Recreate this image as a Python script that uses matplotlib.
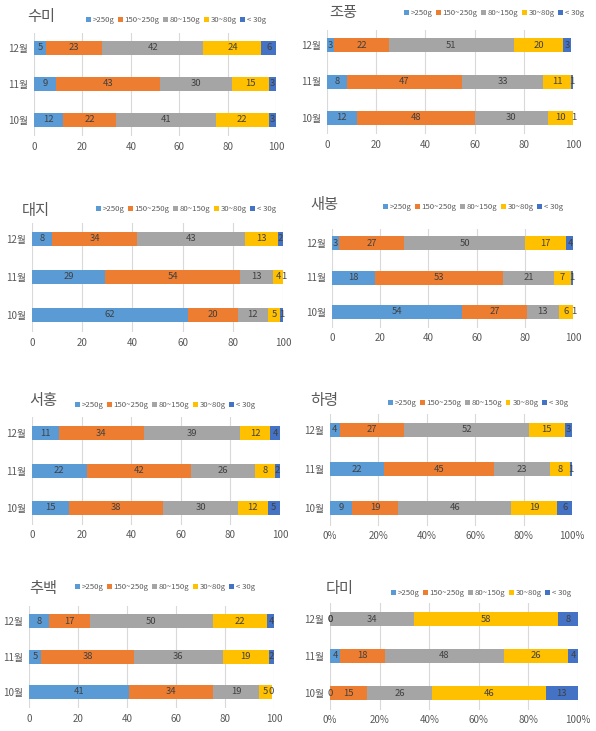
import numpy as np
import matplotlib.pyplot as plt
from matplotlib.patches import Patch

plt.rcParams['font.family'] = ['Noto Sans CJK KR', 'DejaVu Sans']

# size classes and months (bottom to top: 10월, 11월, 12월)
sizes = ['>250g', '150~250g', '80~150g', '30~80g', '< 30g']
months = ['10월', '11월', '12월']
colors = ['#5B9BD5', '#ED7D31', '#A5A5A5', '#FFC000', '#4472C4']

# rows: 10월, 11월, 12월 ; columns: size classes
sumi = [[12, 22, 41, 22, 3], [9, 43, 30, 15, 3], [5, 23, 42, 24, 6]]
jopung = [[12, 48, 30, 10, 1], [8, 47, 33, 11, 1], [3, 22, 51, 20, 3]]
daeji = [[62, 20, 12, 5, 1], [29, 54, 13, 4, 1], [8, 34, 43, 13, 2]]
saebong = [[54, 27, 13, 6, 1], [18, 53, 21, 7, 1], [3, 27, 50, 17, 4]]
seohong = [[15, 38, 30, 12, 5], [22, 42, 26, 8, 2], [11, 34, 39, 12, 4]]
haryeong = [[9, 19, 46, 19, 6], [22, 45, 23, 8, 1], [4, 27, 52, 15, 3]]
chubaek = [[41, 34, 19, 5, 0], [5, 38, 36, 19, 2], [8, 17, 50, 22, 4]]
dami = [[0, 15, 26, 46, 13], [4, 18, 48, 26, 4], [0, 0, 34, 58, 8]]

W, H = 596, 731
fig = plt.figure(figsize=(W / 100, H / 100), dpi=100)

# (name, data, x0, x100, bar centres 12/11/10, title xy, legend xy, percent axis)
panels = [
    ('수미', sumi, 34, 276, (48, 83, 120), (27, 17), (86, 20), False),
    ('조풍', jopung, 327, 573, (45, 82, 118), (329, 13), (404, 13), False),
    ('대지', daeji, 32, 283, (239, 277, 315), (22, 210), (96, 209), False),
    ('새봉', saebong, 332, 573, (243, 277, 312), (310, 205), (383, 207), False),
    ('서홍', seohong, 32, 280, (433, 470, 508), (29, 401), (75, 405), False),
    ('하령', haryeong, 330, 572, (430, 469, 508), (310, 401), (388, 403), True),
    ('추백', chubaek, 29, 274, (621, 657, 692), (29, 589), (75, 587), False),
    ('다미', dami, 330, 578, (619, 656, 693), (326, 588), (391, 593), True),
]

handles = [Patch(facecolor=c, edgecolor='none') for c in colors]

for name, data, x0, x1, bars, tpos, lpos, pct in panels:
    y12, y11, y10 = bars
    s = (y10 - y12) / 2
    ytop = y12 - 0.42 * s
    ybot = y10 + 0.45 * s
    ax = fig.add_axes([x0 / W, 1 - ybot / H, (x1 - x0) / W, (ybot - ytop) / H])
    vals = np.array(data, dtype=float)
    widths = vals / vals.sum(axis=1, keepdims=True) * 100 if pct else vals
    ypos = np.arange(len(months))
    left = np.zeros(len(months))
    for j in range(len(sizes)):
        ax.barh(ypos, widths[:, j], left=left, height=14 / s,
                color=colors[j], zorder=2)
        for i in range(len(months)):
            ax.text(left[i] + widths[i, j] / 2, ypos[i], str(int(vals[i, j])),
                    ha='center', va='center', fontsize=6.8, color='#404040',
                    zorder=3)
        left += widths[:, j]
    ax.set_xlim(0, 100)
    ax.set_ylim(-0.45, 2.42)
    ax.set_yticks(ypos)
    ax.set_yticklabels(months)
    ax.set_xticks(np.arange(0, 101, 20))
    if pct:
        ax.set_xticklabels([f'{t}%' for t in range(0, 101, 20)])
    ax.tick_params(length=0, labelsize=7, labelcolor='#595959', pad=4)
    ax.grid(axis='x', color='#D9D9D9', linewidth=0.8, zorder=0)
    for sp in ax.spines.values():
        sp.set_visible(False)
    fig.text(tpos[0] / W, 1 - tpos[1] / H, name, fontsize=11, color='#595959',
             ha='left', va='center')
    fig.legend(handles, sizes, loc='center left',
               bbox_to_anchor=(lpos[0] / W, 1 - lpos[1] / H), ncol=5,
               frameon=False, fontsize=5.6, labelcolor='#595959',
               handlelength=0.6, handleheight=0.6, handletextpad=0.25,
               columnspacing=0.45, borderaxespad=0, borderpad=0)

fig.savefig('out.png', dpi=100)
